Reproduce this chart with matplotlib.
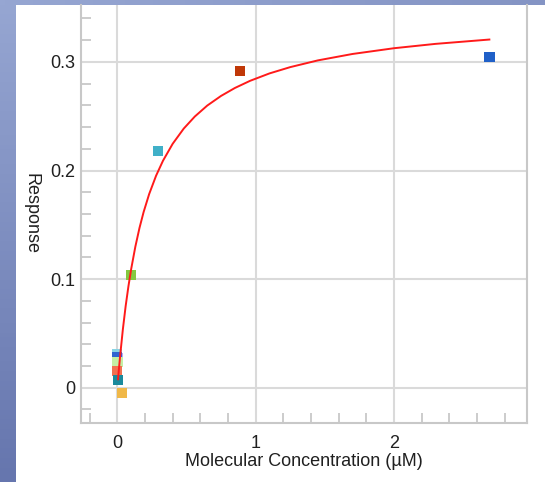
import numpy as np
import matplotlib
matplotlib.use("Agg")
import matplotlib.pyplot as plt
from matplotlib.ticker import MultipleLocator

# measured points (concentration in uM, response)
conc = [0.005, 0.0, 0.0, 0.001, 0.0, 0.007, 0.032, 0.099, 0.296, 0.887, 2.69]
resp = [0.0276, 0.031, 0.0285, 0.024, 0.0156, 0.0074, -0.0046, 0.104, 0.218, 0.2916, 0.3045]
point_colors = ["#b8a8f0", "#88d4e4", "#3064d0", "#c4f0a4", "#f27050", "#1a8a9c",
                "#f0b848", "#84c840", "#40b0c8", "#c03808", "#2060c8"]

# fitted curve
fit_x = [0.005, 0.01, 0.02, 0.04, 0.06, 0.08, 0.10, 0.13, 0.16, 0.19, 0.23, 0.28,
         0.33, 0.40, 0.48, 0.56, 0.65, 0.75, 0.85, 0.96, 1.1, 1.25, 1.45, 1.7,
         2.0, 2.3, 2.69]
fit_y = [0.0078, 0.0153, 0.0292, 0.0539, 0.0751, 0.0933, 0.1093, 0.1298, 0.1471,
         0.1618, 0.1783, 0.1952, 0.2090, 0.2246, 0.2386, 0.2497, 0.2598, 0.2687,
         0.2760, 0.2826, 0.2894, 0.2952, 0.3014, 0.3073, 0.3126, 0.3166, 0.3206]

x_ticks = [0, 1, 2]
y_ticks = [0, 0.1, 0.2, 0.3]
y_tick_labels = ["0", "0.1", "0.2", "0.3"]


def main():
    plt.rcParams["font.family"] = ["Liberation Sans", "DejaVu Sans"]
    fig = plt.figure(figsize=(5.45, 4.82), dpi=100)
    fig.patch.set_facecolor("white")

    # blue window edges
    left_band = fig.add_axes([0, 0, 16 / 545, 1])
    left_band.imshow(np.linspace(0, 1, 100).reshape(-1, 1), aspect="auto",
                     cmap=matplotlib.colors.LinearSegmentedColormap.from_list(
                         "lb", ["#96a6d2", "#6676ae"]))
    left_band.axis("off")
    top_band = fig.add_axes([0, 1 - 5 / 482, 1, 5 / 482])
    top_band.imshow(np.linspace(0, 1, 100).reshape(1, -1), aspect="auto",
                    cmap=matplotlib.colors.LinearSegmentedColormap.from_list(
                        "tb", ["#96a6d2", "#8494c4"]))
    top_band.axis("off")

    ax = fig.add_axes([80.7 / 545, 1 - 422.7 / 482, 446 / 545, 417.7 / 482])
    ax.set_xlim(-0.265, 2.96)
    ax.set_ylim(-0.0322, 0.3524)

    ax.grid(True, which="major", color="#dadada", linewidth=1.5)
    ax.set_axisbelow(True)

    ax.scatter(conc, resp, c=point_colors, marker="s", s=55, linewidths=0, zorder=3)
    ax.plot(fit_x, fit_y, color="#ff1a1a", linewidth=1.4, zorder=4)

    ax.set_xticks(x_ticks)
    ax.set_yticks(y_ticks)
    ax.set_yticklabels(y_tick_labels)
    ax.xaxis.set_minor_locator(MultipleLocator(0.2))
    ax.yaxis.set_minor_locator(MultipleLocator(0.02))
    ax.tick_params(which="major", length=0, labelsize=13, labelcolor="#202020")
    ax.tick_params(axis="x", which="major", pad=9)
    ax.tick_params(axis="y", which="major", pad=4)
    ax.tick_params(which="minor", direction="in", length=7, width=1.2, color="#c4c4c4")

    for side in ["left", "bottom", "right"]:
        ax.spines[side].set_color("#c8c8c8")
        ax.spines[side].set_linewidth(1.5)
    ax.spines["top"].set_visible(False)

    ax.set_xlabel("Molecular Concentration (\u00b5M)", fontsize=13, color="#202020",
                  va="top")
    ax.xaxis.set_label_coords(0.5, -0.073)
    ax.set_ylabel("Response", fontsize=13, color="#202020", rotation=270,
                  va="center")
    ax.yaxis.set_label_coords(-0.111, 0.5)

    fig.savefig("out.png", dpi=100)


if __name__ == "__main__":
    main()
